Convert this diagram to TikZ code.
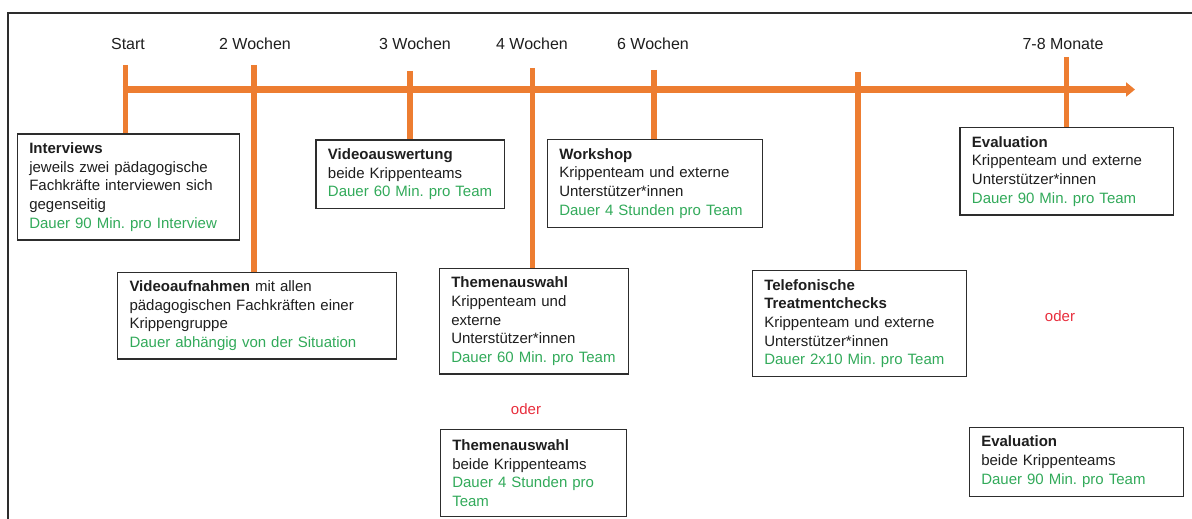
\documentclass[tikz,border=0pt]{standalone}
\usepackage{fontspec}
\setmainfont{Liberation Sans}
\usetikzlibrary{arrows.meta}
\frenchspacing
\definecolor{tlorange}{RGB}{237,125,49}
\definecolor{tlgreen}{RGB}{50,170,90}
\definecolor{tlred}{RGB}{232,45,60}
\definecolor{tltext}{RGB}{30,30,30}
\definecolor{tlframe}{RGB}{45,45,45}
\newcommand{\tldur}[1]{\textcolor{tlgreen}{#1}}
\begin{document}
\frenchspacing
\begin{tikzpicture}[x=1pt,y=-1pt,
  box/.style={draw=tlframe, line width=1.2pt, fill=white, align=left,
    inner xsep=12pt, inner ysep=0pt, text=tltext,
    font=\fontsize{15}{18.7}\selectfont\frenchspacing},
  tick/.style={draw=tlorange, line width=5.5pt},
  timeline/.style={draw=tlorange, line width=6.5pt, -{Triangle[length=9pt,width=14pt]}},
  lbl/.style={font=\fontsize{16}{19}\selectfont, text=tltext, anchor=base, inner sep=0pt},
  oder/.style={text=tlred, font=\fontsize{15}{18}\selectfont, inner sep=0pt},
  frame/.style={draw=tlframe, line width=2pt}]
\useasboundingbox (0,0) rectangle (1192,519);
\draw[frame] (8,530) -- (8,13) -- (1200,13);

% labels
\node[lbl] (l1) at (128,50) {Start};
\node[lbl] (l2) at (255,50) {2 Wochen};
\node[lbl] (l3) at (415,50) {3 Wochen};
\node[lbl] (l4) at (532,50) {4 Wochen};
\node[lbl] (l5) at (653,50) {6 Wochen};
\node[lbl] (l6) at (1063,50) {7-8 Monate};

% boxes
\node[box, text width=198pt, minimum height=106pt] (b1) at (128.3,187) {%
  \textbf{Interviews}\\jeweils zwei pädagogische\\Fachkräfte interviewen sich\\gegenseitig\\\tldur{Dauer 90 Min. pro Interview}};
\node[box, text width=255pt, minimum height=86.7pt] (b2) at (257,315.7) {%
  \textbf{Videoaufnahmen} mit allen\\pädagogischen Fachkräften einer\\Krippengruppe\\\tldur{Dauer abhängig von der Situation}};
\node[box, text width=164.7pt, minimum height=68.7pt] (b3) at (410.3,174.3) {%
  \textbf{Videoauswertung}\\beide Krippenteams\\\tldur{Dauer 60 Min. pro Team}};
\node[box, text width=191pt, minimum height=88pt] (b4) at (654.8,183.3) {%
  \textbf{Workshop}\\Krippenteam und externe\\Unterstützer*innen\\\tldur{Dauer 4 Stunden pro Team}};
\node[box, text width=165pt, minimum height=105.7pt] (b5) at (533.8,321.2) {%
  \textbf{Themenauswahl}\\Krippenteam und\\externe\\Unterstützer*innen\\\tldur{Dauer 60 Min. pro Team}};
\node[box, text width=162.4pt, minimum height=86.6pt] (b6) at (533.5,473) {%
  \textbf{Themenauswahl}\\beide Krippenteams\\\tldur{Dauer 4 Stunden pro}\\\tldur{Team}};
\node[box, text width=190.4pt, minimum height=106pt] (b7) at (859.5,323.7) {%
  \textbf{Telefonische}\\\textbf{Treatmentchecks}\\Krippenteam und externe\\Unterstützer*innen\\\tldur{Dauer 2x10 Min. pro Team}};
\node[box, text width=189.7pt, minimum height=87.3pt] (b8) at (1066.8,171.3) {%
  \textbf{Evaluation}\\Krippenteam und externe\\Unterstützer*innen\\\tldur{Dauer 90 Min. pro Team}};
\node[box, text width=190pt, minimum height=69pt] (b9) at (1076.3,461.8) {%
  \textbf{Evaluation}\\beide Krippenteams\\\tldur{Dauer 90 Min. pro Team}};

% oder
\node[oder] (o1) at (526,409) {oder};
\node[oder] (o2) at (1060,316) {oder};

% ticks
\coordinate (t1) at (125.3,65);
\coordinate (t2) at (254,65);
\coordinate (t3) at (410,71);
\coordinate (t4) at (532.7,68);
\coordinate (t5) at (654,70);
\coordinate (t6) at (858,72);
\coordinate (t7) at (1066.7,57);
\draw[tick] (t1) -- (t1 |- b1.north);
\draw[tick] (t2) -- (t2 |- b2.north);
\draw[tick] (t3) -- (t3 |- b3.north);
\draw[tick] (t4) -- (t4 |- b5.north);
\draw[tick] (t5) -- (t5 |- b4.north);
\draw[tick] (t6) -- (t6 |- b7.north);
\draw[tick] (t7) -- (t7 |- b8.north);

% timeline
\coordinate (a0) at (122.5,89.5);
\coordinate (a1) at (1135,89.5);
\draw[timeline] (a0) -- (a1);
\end{tikzpicture}
\end{document}
